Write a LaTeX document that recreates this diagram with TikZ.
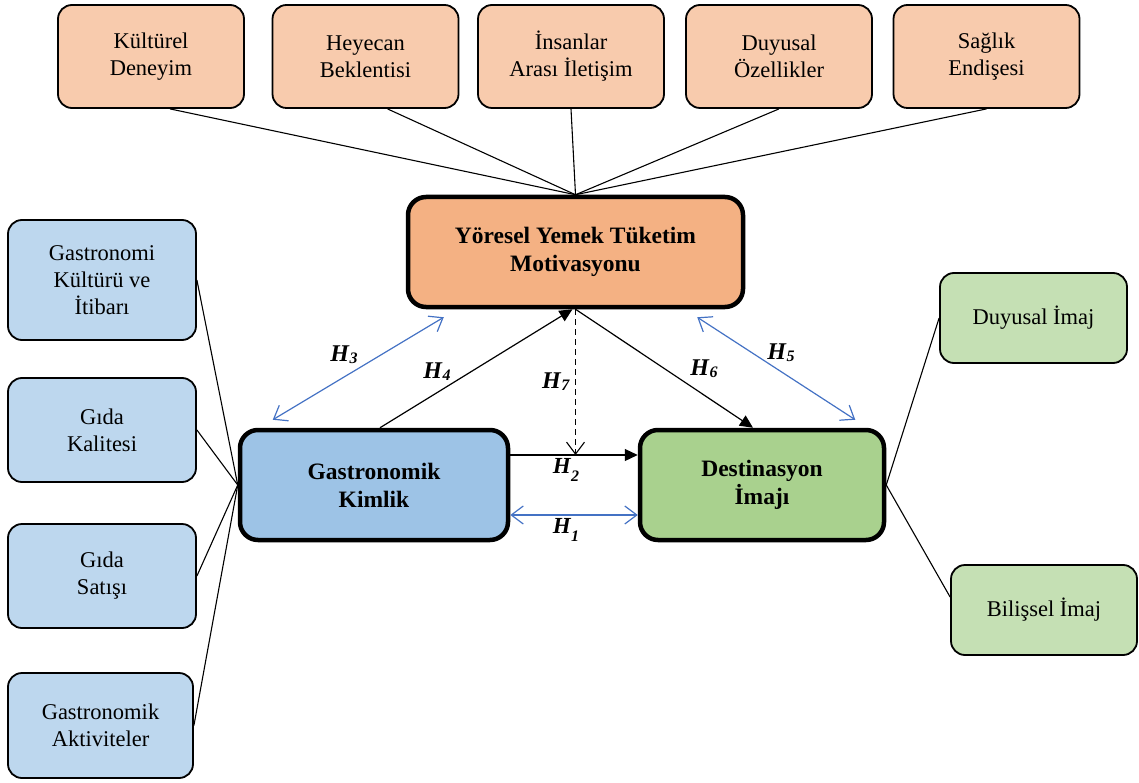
\documentclass[tikz,border=0pt]{standalone}
\usepackage{fontspec}
\setmainfont{Liberation Serif}
\usetikzlibrary{arrows.meta,positioning,calc}
\usepackage{xcolor}
\definecolor{peach}{HTML}{F8CBAD}
\definecolor{motivorange}{HTML}{F4B183}
\definecolor{kimlikblue}{HTML}{9DC3E6}
\definecolor{paleblue}{HTML}{BDD7EE}
\definecolor{imajgreen}{HTML}{A9D18E}
\definecolor{palegreen}{HTML}{C5E0B4}
\definecolor{arrowblue}{HTML}{4472C4}

% hypothesis labels
\newcommand{\hyp}[1]{\textbf{\textit{H}}\raisebox{-2pt}{\fontsize{16}{16}\selectfont\textbf{\textit{#1}}}}
\newcommand{\hyplow}[1]{{\fontsize{23}{23}\selectfont\textbf{\textit{H}}\raisebox{-8pt}{\fontsize{16}{16}\selectfont\textbf{\textit{#1}}}}}

\begin{document}
\begin{tikzpicture}[
    x=1pt, y=-1pt,
    every node/.style={
        font=\fontsize{22.5}{27}\selectfont,
        align=center,
        inner sep=2pt
    },
    box/.style={draw, rounded corners=14pt, line width=1.8pt},
    mainbox/.style={
        draw,
        rounded corners=18pt,
        line width=4.5pt,
        font=\fontsize{23.5}{28}\selectfont\bfseries
    },
    link/.style={draw, line width=1.1pt},
    hyparrow/.style={draw, line width=1.2pt, -{Triangle[length=13pt,width=12pt]}},
    bothway/.style={
        draw=arrowblue,
        line width=1.2pt,
        {Straight Barb[length=12pt,width=18pt]}-{Straight Barb[length=12pt,width=18pt]}
    },
    hlabel/.style={font=\fontsize{24}{28}\selectfont}
]
\useasboundingbox (0,0) rectangle (1139,783);

% -------- Motivation factors --------
\node[box, fill=peach, minimum width=186pt, minimum height=103pt] (kultur) at (151,56.5) {Kültürel\\Deneyim};
\node[box, fill=peach, minimum width=186pt, minimum height=103pt] (heyecan) at (365.5,56.5) {Heyecan\\Beklentisi};
\node[box, fill=peach, minimum width=186pt, minimum height=103pt] (iletisim) at (571,56.5) {İnsanlar\\Arası İletişim};
\node[box, fill=peach, minimum width=186pt, minimum height=103pt] (duyusal) at (779,56.5) {Duyusal\\Özellikler};
\node[box, fill=peach, minimum width=186pt, minimum height=103pt] (saglik) at (986.5,56.5) {Sağlık\\Endişesi};

% -------- Main constructs --------
\node[mainbox, fill=motivorange, minimum width=335pt, minimum height=110pt] (yemek) at (575.5,252) {Yöresel Yemek Tüketim\\Motivasyonu};
\node[mainbox, fill=kimlikblue, minimum width=268pt, minimum height=110pt] (kimlik) at (374,485) {Gastronomik\\Kimlik};
\node[mainbox, fill=imajgreen, minimum width=244pt, minimum height=110pt] (imaj) at (762,485) {Destinasyon\\İmajı};

% -------- Identity dimensions --------
\node[box, fill=paleblue, minimum width=188pt, minimum height=120pt] (itibar) at (102,280) {Gastronomi\\Kültürü ve\\İtibarı};
\node[box, fill=paleblue, minimum width=188pt, minimum height=104pt] (kalite) at (102,430) {Gıda\\Kalitesi};
\node[box, fill=paleblue, minimum width=188pt, minimum height=104pt] (satis) at (102,576) {Gıda\\Satışı};
\node[box, fill=paleblue, minimum width=185pt, minimum height=105pt] (aktivite) at (100.5,725.5) {Gastronomik\\Aktiviteler};

% -------- Image dimensions --------
\node[box, fill=palegreen, minimum width=187pt, minimum height=90pt] (duyimaj) at (1033.5,318) {Duyusal İmaj};
\node[box, fill=palegreen, minimum width=186pt, minimum height=90pt] (bilimaj) at (1044,610) {Bilişsel İmaj};

% -------- Plain links --------
\draw[link] ([xshift=19pt]kultur.south) -- (yemek.north);
\draw[link] ([xshift=22pt]heyecan.south) -- (yemek.north);
\draw[link] (iletisim.south) -- (yemek.north);
\draw[link] (duyusal.south) -- (yemek.north);
\draw[link] (saglik.south) -- (yemek.north);

\foreach \n in {itibar,kalite,satis,aktivite}
    \draw[link] (\n.east) -- (kimlik.west);

\draw[link] (duyimaj.west) -- (imaj.east);
\draw[link] ([yshift=13pt]bilimaj.west) -- (imaj.east);

% -------- Hypotheses --------
\coordinate (h2start) at ([yshift=30pt]kimlik.east);
\coordinate (h2end) at ([yshift=30pt]imaj.west);
\draw[hyparrow] (h2start) -- (h2end);
\draw[bothway] ([yshift=-30pt]kimlik.east) -- ([yshift=-30pt]imaj.west);

\draw[hyparrow] ([xshift=6pt]kimlik.north) -- ([xshift=-3pt]yemek.south);
\draw[hyparrow] (yemek.south) -- ([xshift=-9pt]imaj.north);
\draw[link, dashed, dash pattern=on 6pt off 4pt, -{Straight Barb[length=12pt,width=18pt]}]
    (yemek.south) -- (yemek.south |- h2start);

\draw[bothway] ($(kimlik.north west)+(35,-8)$) -- ($(yemek.south west)+(38,8)$);
\draw[bothway] ($(yemek.south east)+(-48,8)$) -- ($(imaj.north east)+(-31,-8)$);

% -------- Labels --------
\node[hlabel] (h3) at (344,355) {\hyp{3}};
\node[hlabel] (h4) at (437,372) {\hyp{4}};
\node[hlabel] (h7) at (556,382) {\hyp{7}};
\node[hlabel] (h6) at (704,369) {\hyp{6}};
\node[hlabel] (h5) at (781,353) {\hyp{5}};
\node[hlabel] (h2) at (566,470) {\hyplow{2}};
\node[hlabel] (h1) at (566,530) {\hyplow{1}};

\end{tikzpicture}
\end{document}
